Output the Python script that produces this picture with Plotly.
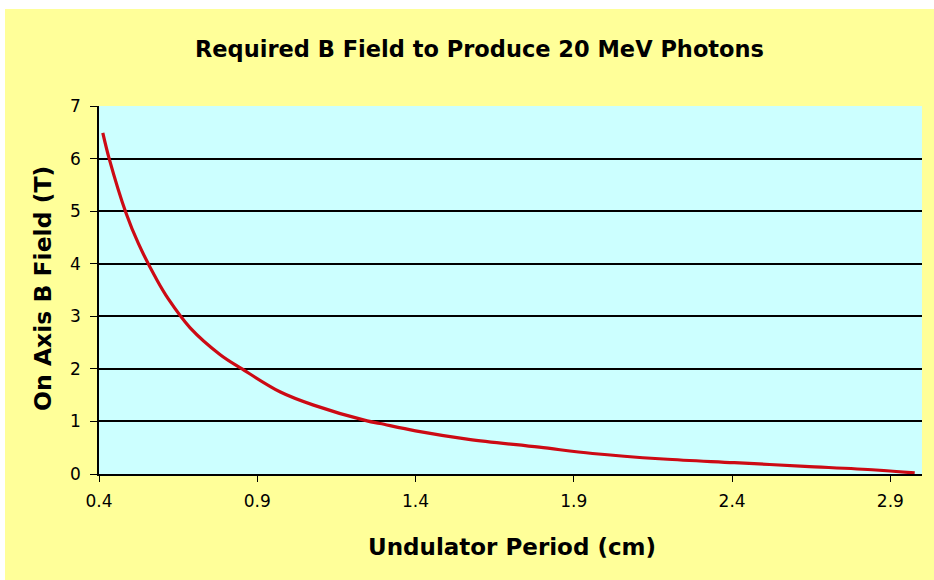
import plotly.graph_objects as go

# Data
period_cm = [0.412, 0.433, 0.485, 0.524, 0.583, 0.619, 0.688, 0.783, 0.849, 0.973,
             1.078, 1.247, 1.288, 1.40, 1.568, 1.791, 1.959, 2.183, 2.407, 2.630,
             2.854, 2.977]
b_field_T = [6.49, 5.98, 4.97, 4.39, 3.69, 3.33, 2.78, 2.27, 2.01, 1.56,
             1.31, 1.01, 0.96, 0.82, 0.66, 0.51, 0.39, 0.285, 0.215, 0.146,
             0.076, 0.02]

title_text = "Required B Field to Produce 20 MeV Photons"
x_title = "Undulator Period (cm)"
y_title = "On Axis B Field (T)"

W, H = 934, 580
L, T = 99, 106
R, B = W - 922, H - 474
pw, ph = W - L - R, H - T - B

def px_x(px):
    return (px - L) / pw

def px_y(py):
    return (H - B - py) / ph

fig = go.Figure()
fig.add_trace(go.Scatter(
    x=period_cm, y=b_field_T, mode="lines",
    line=dict(color="#CC0A14", width=3.2, shape="spline", smoothing=1.0),
    showlegend=False, hoverinfo="x+y"))

font_main = "DejaVu Sans, Liberation Sans, Arial, sans-serif"

fig.update_layout(
    width=W, height=H,
    margin=dict(l=L, r=R, t=T, b=B, autoexpand=False),
    paper_bgcolor="#FFFF99",
    plot_bgcolor="#CCFFFF",
    font=dict(family=font_main, color="black"),
    shapes=[
        dict(type="rect", xref="paper", yref="paper", layer="below",
             x0=px_x(-5), x1=px_x(W + 5), y0=px_y(9), y1=px_y(-5),
             fillcolor="white", line=dict(width=0)),
        dict(type="rect", xref="paper", yref="paper", layer="below",
             x0=px_x(-5), x1=px_x(5), y0=px_y(H + 5), y1=px_y(-5),
             fillcolor="white", line=dict(width=0)),
    ],
    annotations=[
        dict(text="<b>" + title_text + "</b>", xref="paper", yref="paper",
             x=px_x(479), y=px_y(49), xanchor="center", yanchor="middle",
             showarrow=False, font=dict(size=22.5, family=font_main, color="black")),
        dict(text="<b>" + x_title + "</b>", xref="paper", yref="paper",
             x=px_x(512), y=px_y(547), xanchor="center", yanchor="middle",
             showarrow=False, font=dict(size=23, family=font_main, color="black")),
        dict(text="<b>" + y_title + "</b>", xref="paper", yref="paper",
             x=px_x(43), y=px_y(289), xanchor="center", yanchor="middle", textangle=-90,
             showarrow=False, font=dict(size=23.5, family=font_main, color="black")),
    ],
)

fig.update_xaxes(
    range=[0.4, 3.0], tick0=0.4, dtick=0.5, tickformat=".1f",
    showgrid=False, zeroline=False, automargin=False,
    showline=True, linecolor="black", linewidth=1.5,
    ticks="outside", ticklen=6, tickcolor="black", tickwidth=1.2,
    tickfont=dict(size=17, family=font_main), ticklabelstandoff=5,
)
fig.update_yaxes(
    range=[0, 7], dtick=1,
    showgrid=True, gridcolor="black", gridwidth=1.6,
    zeroline=False, automargin=False,
    showline=True, linecolor="black", linewidth=1.5,
    ticks="outside", ticklen=7, tickcolor="black", tickwidth=1.2,
    tickfont=dict(size=17, family=font_main), ticklabelstandoff=6,
)

fig.write_html(
    "out.html",
    config={"displayModeBar": False},
    post_script="document.body.style.margin='0';document.body.style.overflow='hidden';",
)
